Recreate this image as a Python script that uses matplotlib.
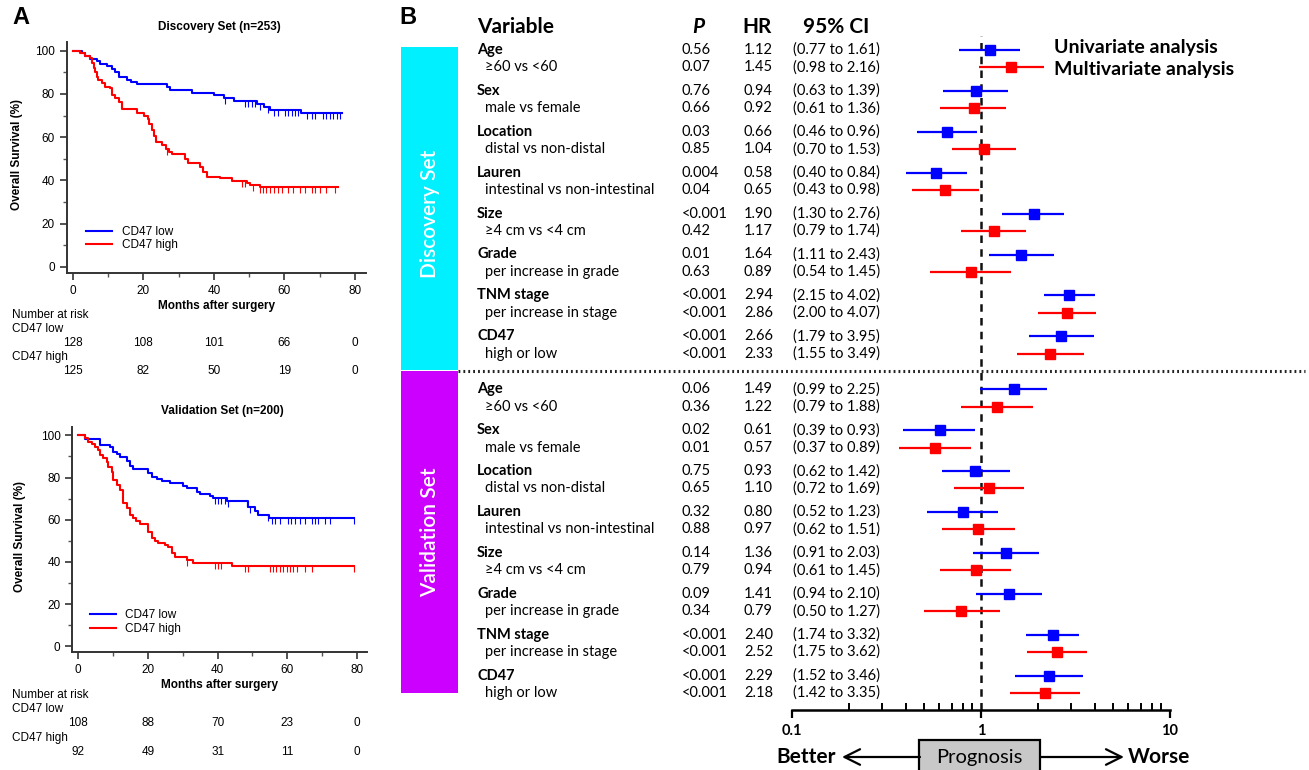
import numpy as np
import matplotlib
matplotlib.use("Agg")
import matplotlib.pyplot as plt
from matplotlib.patches import Rectangle
from matplotlib.transforms import blended_transform_factory

# ---------------- Kaplan-Meier data ----------------
disc_low_t = [0, 2.5, 3.5, 4.9, 6.8, 7.8, 9.7, 11.1, 12.1, 13.0, 15.4, 16.4, 18.3, 26.7, 27.7,
              33.9, 40.0, 42.8, 45.6, 52.2, 54.1, 55.9, 64.8, 76.2]
disc_low_s = [100, 98.8, 97.3, 96.1, 95.0, 94.0, 92.7, 91.5, 90.0, 87.7, 86.6, 85.4, 84.6, 83.3, 81.7,
              80.5, 79.4, 78.2, 76.6, 75.5, 74.0, 72.5, 71.0, 71.0]
disc_low_cens = [43.2, 48.8, 49.8, 50.7, 51.7, 53.1, 55.4, 56.9, 58.3, 60.2, 61.1, 62.0, 63.0, 63.9,
                 66.3, 67.7, 68.7, 71.0, 71.9, 72.9, 73.8, 74.8, 75.7]

disc_high_t = [0, 2.1, 3.5, 4.9, 5.4, 5.9, 6.4, 6.8, 7.3, 8.2, 9.2, 10.6, 11.1, 12.1, 13.0, 13.9, 18.3,
               20.2, 21.2, 21.7, 22.6, 23.1, 23.6, 25.4, 26.3, 27.3, 28.2, 31.9, 32.8, 36.1, 37.0,
               38.0, 41.8, 45.1, 49.3, 50.2, 53.1, 75.2]
disc_high_s = [100, 98.8, 97.5, 96.5, 94.2, 91.9, 90.3, 88.0, 86.5, 84.9, 83.4, 82.6, 79.5, 78.0, 76.4,
               72.8, 71.2, 69.6, 68.5, 66.2, 63.2, 60.4, 57.8, 56.3, 54.7, 53.2, 52.1, 50.1, 48.1,
               46.3, 44.0, 41.7, 40.9, 39.8, 38.6, 37.8, 37.1, 37.1]
disc_high_cens = [26.7, 47.9, 48.8, 51.2, 53.1, 54.0, 54.9, 55.9, 56.9, 58.3, 59.2, 61.1, 62.5, 64.4,
                  65.8, 67.7, 68.7, 70.1, 71.9, 74.3]

val_low_t = [0, 1.9, 6.2, 9.1, 10.0, 11.0, 12.0, 13.9, 14.8, 15.8, 20.1, 21.1, 22.5, 23.9, 26.3, 30.1,
             31.1, 34.0, 34.9, 37.8, 38.8, 42.6, 48.8, 50.7, 51.7, 54.8, 79.1]
val_low_s = [100, 98.1, 95.4, 94.3, 92.3, 91.2, 89.6, 88.0, 85.5, 84.0, 82.0, 80.1, 79.1, 78.5, 77.6,
             76.0, 74.9, 73.3, 72.2, 71.2, 70.1, 69.0, 66.2, 64.3, 62.2, 60.7, 60.7]
val_low_cens = [39.2, 40.2, 41.1, 42.1, 43.1, 48.3, 49.3, 54.5, 55.5, 56.5, 57.9, 60.3, 61.2, 62.2,
                63.6, 65.1, 67.0, 67.9, 68.9, 70.8, 72.2, 79.1]

val_high_t = [0, 1.9, 2.9, 3.8, 4.8, 5.7, 6.2, 7.2, 8.1, 8.6, 9.6, 10.0, 11.0, 12.0, 12.9, 13.9, 14.8,
              15.8, 16.7, 17.7, 20.1, 21.1, 22.0, 23.0, 24.9, 25.8, 26.8, 27.8, 31.1, 33.0, 44.0, 79.1]
val_high_s = [100, 98.6, 97.0, 95.9, 94.3, 93.0, 90.7, 89.1, 87.5, 84.8, 82.8, 78.8, 76.5, 74.1, 67.8,
              65.4, 62.2, 61.0, 59.4, 57.8, 54.3, 51.2, 50.1, 48.8, 48.0, 46.9, 44.1, 42.2, 40.9,
              39.7, 38.2, 38.2]
val_high_cens = [31.1, 39.2, 40.2, 41.1, 47.8, 48.8, 55.0, 56.0, 56.9, 57.9, 58.9, 59.8, 60.8, 61.7,
                 62.7, 65.1, 67.0, 79.1]

risk_times = [0, 20, 40, 60, 80]
disc_risk_low = [128, 108, 101, 66, 0]
disc_risk_high = [125, 82, 50, 19, 0]
val_risk_low = [108, 88, 70, 23, 0]
val_risk_high = [92, 49, 31, 11, 0]

# ---------------- forest plot data ----------------
variables = ["Age", "Sex", "Location", "Lauren", "Size", "Grade", "TNM stage", "CD47"]
sublabels = ["\u226560 vs <60", "male vs female", "distal vs non-distal",
             "intestinal vs non-intestinal", "\u22654 cm vs <4 cm", "per increase in grade",
             "per increase in stage", "high or low"]

disc_uni_p = ["0.56", "0.76", "0.03", "0.004", "<0.001", "0.01", "<0.001", "<0.001"]
disc_uni_hr = [1.12, 0.94, 0.66, 0.58, 1.90, 1.64, 2.94, 2.66]
disc_uni_lo = [0.77, 0.63, 0.46, 0.40, 1.30, 1.11, 2.15, 1.79]
disc_uni_hi = [1.61, 1.39, 0.96, 0.84, 2.76, 2.43, 4.02, 3.95]
disc_mul_p = ["0.07", "0.66", "0.85", "0.04", "0.42", "0.63", "<0.001", "<0.001"]
disc_mul_hr = [1.45, 0.92, 1.04, 0.65, 1.17, 0.89, 2.86, 2.33]
disc_mul_lo = [0.98, 0.61, 0.70, 0.43, 0.79, 0.54, 2.00, 1.55]
disc_mul_hi = [2.16, 1.36, 1.53, 0.98, 1.74, 1.45, 4.07, 3.49]

val_uni_p = ["0.06", "0.02", "0.75", "0.32", "0.14", "0.09", "<0.001", "<0.001"]
val_uni_hr = [1.49, 0.61, 0.93, 0.80, 1.36, 1.41, 2.40, 2.29]
val_uni_lo = [0.99, 0.39, 0.62, 0.52, 0.91, 0.94, 1.74, 1.52]
val_uni_hi = [2.25, 0.93, 1.42, 1.23, 2.03, 2.10, 3.32, 3.46]
val_mul_p = ["0.36", "0.01", "0.65", "0.88", "0.79", "0.34", "<0.001", "<0.001"]
val_mul_hr = [1.22, 0.57, 1.10, 0.97, 0.94, 0.79, 2.52, 2.18]
val_mul_lo = [0.79, 0.37, 0.72, 0.62, 0.61, 0.50, 1.75, 1.42]
val_mul_hi = [1.88, 0.89, 1.69, 1.51, 1.45, 1.27, 3.62, 3.35]

W, H = 1309, 770
KM_FONT = "Liberation Sans"
FP_FONT = ["Lato", "DejaVu Sans"]
BLUE = "#0000FF"
RED = "#FF0000"

fig = plt.figure(figsize=(W / 100, H / 100), dpi=100)

# overlay axes in pixel coordinates for free text and boxes
ov = fig.add_axes([0, 0, 1, 1])
ov.set_xlim(0, W)
ov.set_ylim(H, 0)
ov.axis("off")


def px_axes(left, top, right, bottom):
    return fig.add_axes([left / W, 1 - bottom / H, (right - left) / W, (bottom - top) / H])


def km_panel(box, xlim, ylim, title, title_y, curves, risk_low, risk_high, risk_y,
             ylab_x, p_xy, leg_anchor):
    ax = px_axes(*box)
    for t, s, cens, col, lab in curves:
        ax.step(t, s, where="post", color=col, lw=1.5, label=lab)
        idx = np.searchsorted(t, cens, side="right") - 1
        ax.plot(cens, np.array(s)[idx], ls="none", marker=3, ms=4, mew=0.8, color=col)
    ax.set_xlim(*xlim)
    ax.set_ylim(*ylim)
    ax.set_xticks([0, 20, 40, 60, 80])
    ax.set_xticks([10, 30, 50, 70], minor=True)
    ax.set_yticks([0, 20, 40, 60, 80, 100])
    ax.set_yticks([10, 30, 50, 70, 90], minor=True)
    for sp in ["top", "right"]:
        ax.spines[sp].set_visible(False)
    for sp in ["left", "bottom"]:
        ax.spines[sp].set_linewidth(1.4)
        ax.spines[sp].set_color("#333333")
    ax.tick_params(which="major", length=5, width=1.2, color="#333333", labelsize=8.5)
    ax.tick_params(which="minor", length=3, width=1.0, color="#555555")
    for lb in ax.get_xticklabels() + ax.get_yticklabels():
        lb.set_fontfamily(KM_FONT)
    ax.set_xlabel("Months after surgery", fontfamily=KM_FONT, fontweight="bold",
                  fontsize=8.5, labelpad=2)
    ov.text((box[0] + box[2]) / 2 + 3, title_y, title, ha="center", va="center",
            fontfamily=KM_FONT, fontweight="bold", fontsize=8.5)
    ov.text(ylab_x, (box[1] + box[3]) / 2 - 3, "Overall Survival (%)", rotation=90,
            ha="center", va="center", fontfamily=KM_FONT, fontweight="bold", fontsize=8.5)
    ov.text(p_xy[0], p_xy[1], "P<0.001", ha="left", va="center", fontfamily=KM_FONT,
            fontweight="bold", fontstyle="italic", fontsize=8.5)
    ax.legend(loc="upper left", bbox_to_anchor=leg_anchor, frameon=False,
              prop={"family": KM_FONT, "size": 8.5}, handlelength=2.2,
              borderpad=0, borderaxespad=0, labelspacing=0.15, handletextpad=0.8)
    tr = blended_transform_factory(ax.transData, ov.transData)
    ov.text(12, risk_y[0], "Number at risk", ha="left", va="center", fontfamily=KM_FONT, fontsize=8.5)
    ov.text(12, risk_y[1], "CD47 low", ha="left", va="center", fontfamily=KM_FONT, fontsize=8.5)
    ov.text(12, risk_y[3], "CD47 high", ha="left", va="center", fontfamily=KM_FONT, fontsize=8.5)
    for tt, a, b in zip(risk_times, risk_low, risk_high):
        ov.text(tt, risk_y[2], str(a), transform=tr, ha="center", va="center",
                fontfamily=KM_FONT, fontsize=8.5)
        ov.text(tt, risk_y[4], str(b), transform=tr, ha="center", va="center",
                fontfamily=KM_FONT, fontsize=8.5)
    return ax


km_panel((66.7, 42, 366, 273), (-1.7, 83.1), (-2.8, 104.0), "Discovery Set (n=253)", 27,
         [(disc_low_t, disc_low_s, disc_low_cens, BLUE, "CD47 low"),
          (disc_high_t, disc_high_s, disc_high_cens, RED, "CD47 high")],
         disc_risk_low, disc_risk_high, [315, 329, 343, 357, 371], 17, (93, 197), (0.065, 0.205))

km_panel((72.3, 426.7, 366.7, 652.3), (-1.72, 82.8), (-2.84, 104.1), "Validation Set (n=200)", 411,
         [(val_low_t, val_low_s, val_low_cens, BLUE, "CD47 low"),
          (val_high_t, val_high_s, val_high_cens, RED, "CD47 high")],
         val_risk_low, val_risk_high, [695, 709, 723, 738, 752], 20, (97, 582), (0.06, 0.19))

ov.text(12, 18, "A", ha="left", va="center", fontfamily=KM_FONT, fontweight="bold", fontsize=17)
ov.text(399, 18, "B", ha="left", va="center", fontfamily=KM_FONT, fontweight="bold", fontsize=17)

# ---------------- panel B: table ----------------
ov.text(477, 27, "Variable", ha="left", va="center", family=FP_FONT, fontweight="bold", fontsize=15)
ov.text(698, 27, "P", ha="center", va="center", family=FP_FONT, fontweight="bold",
        fontstyle="italic", fontsize=15)
ov.text(757, 27, "HR", ha="center", va="center", family=FP_FONT, fontweight="bold", fontsize=15)
ov.text(836, 27, "95% CI", ha="center", va="center", family=FP_FONT, fontweight="bold", fontsize=15)

ov.add_patch(Rectangle((401, 47), 57, 323, facecolor="#00F0FF", edgecolor="none"))
ov.add_patch(Rectangle((401, 371), 57, 322, facecolor="#CC00FF", edgecolor="none"))
ov.text(430, 214, "Discovery Set", rotation=90, ha="center", va="center", color="white",
        family=FP_FONT, fontweight="semibold", fontsize=15)
ov.text(430, 532, "Validation Set", rotation=90, ha="center", va="center", color="white",
        family=FP_FONT, fontweight="semibold", fontsize=15)
ov.plot([458, 1305], [371, 371], color="#222222", lw=2.2, ls=(0, (0.6, 1.0)))

fa = px_axes(791.7, 36, 1170, 710)
fa.set_xscale("log")
fa.set_xlim(0.1, 10)
fa.set_ylim(710, 36)
for sp in ["top", "right", "left"]:
    fa.spines[sp].set_visible(False)
fa.spines["bottom"].set_linewidth(1.8)
fa.set_yticks([])
fa.set_xticks([0.1, 1, 10])
fa.set_xticklabels(["0.1", "1", "10"])
fa.tick_params(axis="x", which="major", direction="out", length=6, width=1.6, pad=4)
fa.tick_params(axis="x", which="minor", direction="in", length=5, width=1.4)
for lb in fa.get_xticklabels():
    lb.set_fontfamily(FP_FONT)
    lb.set_fontweight("bold")
    lb.set_fontsize(10.5)
fa.axvline(1, color="#111111", lw=1.8, ls=(0, (3, 2.5)))
fa.patch.set_alpha(0)

cols = (681.7, 744, 793)
blocks = [
    (50, disc_uni_p, disc_uni_hr, disc_uni_lo, disc_uni_hi,
     disc_mul_p, disc_mul_hr, disc_mul_lo, disc_mul_hi),
    (389.3, val_uni_p, val_uni_hr, val_uni_lo, val_uni_hi,
     val_mul_p, val_mul_hr, val_mul_lo, val_mul_hi),
]
for start, up, uhr, ulo, uhi, mp, mhr, mlo, mhi in blocks:
    for i, (var, sub) in enumerate(zip(variables, sublabels)):
        y1 = start + i * 40.9
        y2 = y1 + 17.3
        ov.text(477, y1, var, ha="left", va="center", family=FP_FONT, fontweight="bold", fontsize=10.5)
        ov.text(485, y2, sub, ha="left", va="center", family=FP_FONT, fontsize=10.5)
        for yy, p, hr, lo, hi, col in ((y1, up[i], uhr[i], ulo[i], uhi[i], BLUE),
                                       (y2, mp[i], mhr[i], mlo[i], mhi[i], RED)):
            ov.text(cols[0], yy, p, ha="left", va="center", family=FP_FONT, fontsize=10.5)
            ov.text(cols[1], yy, f"{hr:.2f}", ha="left", va="center", family=FP_FONT, fontsize=10.5)
            ov.text(cols[2], yy, f"({lo:.2f} to {hi:.2f})", ha="left", va="center",
                    family=FP_FONT, fontsize=10.5)
            fa.plot([lo, hi], [yy, yy], color=col, lw=1.6, solid_capstyle="butt")
            fa.plot([hr], [yy], marker="s", ms=7, color=col, ls="none")

ov.text(1054, 47, "Univariate analysis", ha="left", va="center", family=FP_FONT,
        fontweight="bold", fontsize=14)
ov.text(1054, 69, "Multivariate analysis", ha="left", va="center", family=FP_FONT,
        fontweight="bold", fontsize=14)

# ---------------- prognosis arrows ----------------
ov.text(776, 757, "Better", ha="left", va="center", family=FP_FONT, fontweight="bold", fontsize=15)
ov.text(1128, 757, "Worse", ha="left", va="center", family=FP_FONT, fontweight="bold", fontsize=15)
ov.annotate("", xy=(842, 757), xytext=(920, 757),
            arrowprops=dict(arrowstyle="->", lw=1.6, mutation_scale=28, shrinkA=0, shrinkB=0))
ov.annotate("", xy=(1124, 757), xytext=(1040, 757),
            arrowprops=dict(arrowstyle="->", lw=1.6, mutation_scale=28, shrinkA=0, shrinkB=0))
ov.add_patch(Rectangle((919, 739.5), 121, 40, facecolor="#C8C8C8", edgecolor="black", lw=1.6))
ov.text(979.5, 757, "Prognosis", ha="center", va="center", family=FP_FONT, fontsize=14.5)

fig.savefig("out.png", dpi=100)
